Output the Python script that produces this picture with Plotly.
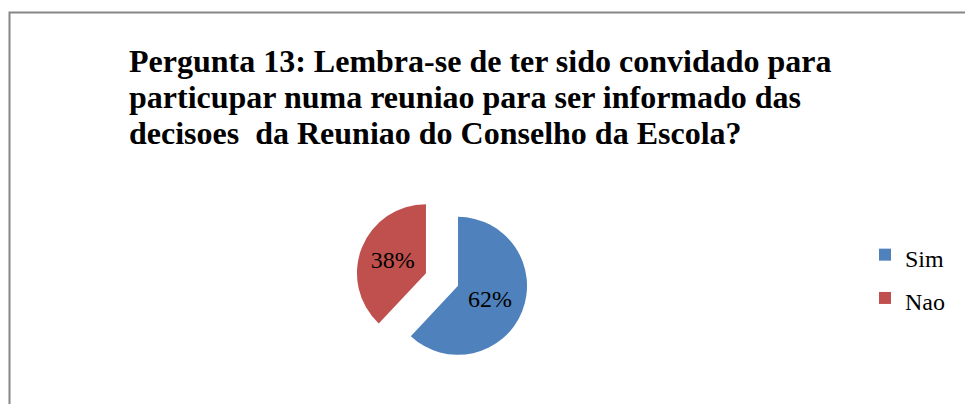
import plotly.graph_objects as go

W, H = 965, 404

labels = ["Sim", "Nao"]
values = [62, 38]
colors = ["#4F81BD", "#C0504D"]
title_lines = [
    "Pergunta 13: Lembra-se de ter sido convidado para",
    "particupar numa reuniao para ser informado das",
    "decisoes  da Reuniao do Conselho da Escola?",
]

def px_x(x):
    return x / W

def px_y(y):
    return 1 - y / H

# pie geometry in pixels
cx, cy, r, pull = 442, 279.5, 69, 0.25
half = r * (1 + pull)

legend_labels = ['<span style="font-size:24px">%s</span>' % l for l in labels]

fig = go.Figure(
    go.Pie(
        labels=legend_labels,
        values=values,
        marker=dict(colors=colors, line=dict(width=0)),
        sort=False,
        direction="clockwise",
        rotation=0,
        pull=[pull, pull],
        textinfo="percent",
        textposition="inside",
        insidetextorientation="horizontal",
        textfont=dict(family="Liberation Serif", size=24, color="black"),
        domain=dict(x=[px_x(cx - half), px_x(cx + half)],
                    y=[px_y(cy + half), px_y(cy - half)]),
        hoverinfo="label+percent",
    )
)

title_centers = [61, 97, 133]
for line, yc in zip(title_lines, title_centers):
    fig.add_annotation(
        text="<b>" + line + "</b>",
        x=px_x(127), y=px_y(yc), xref="paper", yref="paper",
        xanchor="left", yanchor="middle", align="left", showarrow=False,
        font=dict(family="Liberation Serif", size=32, color="black"),
    )

fig.add_shape(
    type="rect", xref="paper", yref="paper",
    x0=px_x(9.5), x1=px_x(1000), y0=px_y(440), y1=px_y(12.5),
    line=dict(color="#868686", width=2), fillcolor="rgba(0,0,0,0)",
)

fig.update_layout(
    width=W, height=H,
    margin=dict(l=0, r=0, t=0, b=0),
    paper_bgcolor="white", plot_bgcolor="white",
    showlegend=True,
    legend=dict(
        x=px_x(865), y=px_y(228), xanchor="left", yanchor="top",
        font=dict(family="Liberation Serif", size=31, color="black"),
        itemwidth=30, bgcolor="rgba(0,0,0,0)",
    ),
)

fig.write_html("out.html", config={"displayModeBar": False},
               post_script="document.body.style.margin='0';")
